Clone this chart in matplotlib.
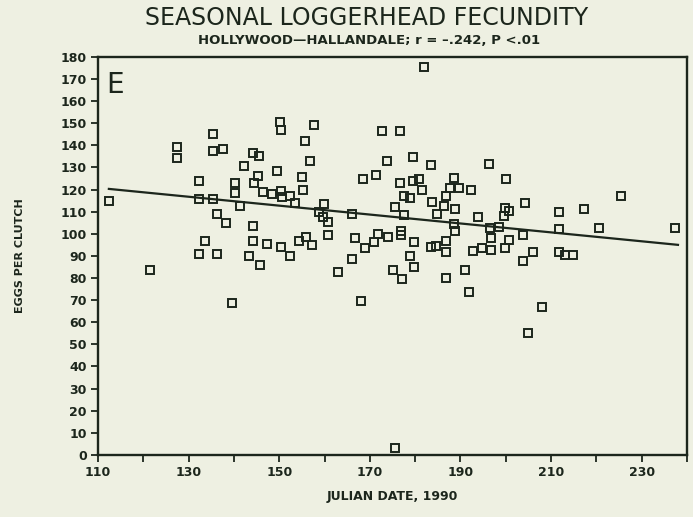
import matplotlib
matplotlib.use("Agg")
import matplotlib.pyplot as plt
import numpy as np

# julian date / eggs per clutch
dates = [
    112.5, 127.4, 127.4, 135.4, 135.3, 137.5, 142.3, 144.3, 145.6, 150.2,
    150.3, 149.4, 132.3, 140.2, 140.2, 144.4, 145.4, 146.4, 148.3, 150.4,
    150.6, 132.3, 135.4, 141.4, 136.3, 138.2, 144.3, 133.7, 144.3, 147.4,
    150.4, 132.3, 136.3, 143.3, 121.4, 139.6, 145.7, 152.4, 154.4, 157.3,
    155.9, 162.9, 166.0, 168.0, 168.9, 170.9, 175.0, 177.0, 178.9, 179.7,
    179.7, 183.6, 184.7, 186.9, 186.8, 186.9, 190.9, 191.9, 192.8, 175.5,
    194.8, 196.8, 196.8, 199.8, 200.7, 203.9, 206.0, 204.9, 208.1, 211.7,
    213.0, 214.8, 196.2, 200.1, 192.4, 204.2, 199.8, 200.7, 199.6, 193.9,
    211.7, 217.3, 225.4, 196.5, 198.4, 211.7, 220.5, 237.4, 203.8, 182.0,
    157.7, 172.6, 176.6, 155.7, 156.7, 173.7, 179.5, 183.6, 171.4, 168.4,
    155.1, 155.2, 176.6, 179.6, 180.8, 181.6, 188.6, 187.7, 189.7, 177.5,
    178.9, 183.7, 186.8, 186.4, 188.9, 184.9, 188.6, 188.9, 175.5, 177.5,
    166.0, 159.9, 158.8, 159.7, 160.8, 152.3, 153.4, 160.8, 166.7, 171.8,
    173.9, 176.8, 176.8,
]
eggs = [
    115.0, 139.4, 134.4, 145.3, 137.5, 138.5, 130.6, 136.5, 135.4, 150.7,
    146.8, 128.4, 123.7, 123.1, 118.3, 123.0, 126.0, 118.9, 118.0, 119.2,
    116.5, 115.6, 115.7, 112.4, 109.1, 105.1, 103.4, 96.6, 96.7, 95.6,
    94.0, 91.0, 91.0, 90.0, 83.6, 68.7, 85.7, 89.8, 96.6, 95.1,
    98.6, 82.7, 88.6, 69.7, 93.5, 96.3, 83.8, 79.7, 89.8, 85.0,
    96.4, 93.9, 94.5, 91.9, 96.6, 79.9, 83.6, 73.8, 92.0, 3.0,
    93.6, 92.9, 98.2, 93.5, 97.3, 87.8, 91.9, 55.2, 66.8, 91.6,
    90.5, 90.5, 131.6, 125.0, 119.8, 114.0, 111.7, 110.2, 108.0, 107.7,
    110.0, 111.3, 117.1, 102.7, 103.1, 102.3, 102.6, 102.5, 99.5, 175.3,
    149.2, 146.4, 146.6, 141.9, 133.1, 132.7, 134.6, 131.1, 126.8, 124.7,
    125.8, 119.8, 123.0, 123.9, 124.8, 120.0, 125.1, 120.7, 120.9, 117.3,
    116.0, 114.6, 117.1, 112.5, 111.2, 109.1, 104.6, 101.3, 112.2, 108.4,
    109.1, 113.4, 110.0, 107.4, 105.5, 117.0, 114.0, 99.6, 98.1, 99.8,
    98.5, 101.1, 99.6,
]

# regression line end points
fit_x = [112.4, 238.0]
fit_y = [120.3, 95.0]

x_ticks = list(range(110, 241, 10))
x_labels = [str(t) if (t - 110) % 20 == 0 else "" for t in x_ticks]
y_ticks = list(range(0, 181, 10))

ink = "#1c261c"
paper = "#eef0e2"

plt.rcParams["font.family"] = "DejaVu Sans"
fig = plt.figure(figsize=(6.93, 5.17), dpi=100, facecolor=paper)
ax = fig.add_axes([0.1414, 0.12, 0.85, 0.77])
ax.set_facecolor(paper)

ax.plot(dates, eggs, linestyle="none", marker="s", markersize=5.5,
        markerfacecolor="none", markeredgecolor=ink, markeredgewidth=1.4)
ax.plot(fit_x, fit_y, color=ink, linewidth=1.6)

ax.set_xlim(110, 240)
ax.set_ylim(0, 180)
ax.set_xticks(x_ticks)
ax.set_xticklabels(x_labels)
ax.set_yticks(y_ticks)
ax.tick_params(direction="out", length=5, width=1.3, colors=ink,
               labelsize=9, pad=3)
for lab in ax.get_xticklabels() + ax.get_yticklabels():
    lab.set_fontweight("bold")
for sp in ax.spines.values():
    sp.set_color(ink)
    sp.set_linewidth(1.7)

ax.set_xlabel("JULIAN DATE, 1990", fontsize=9, fontweight="bold",
              color=ink, labelpad=8)
ax.set_ylabel("EGGS PER CLUTCH", fontsize=8, fontweight="bold",
              color=ink, labelpad=26)

ax.text(0.014, 0.965, "E", transform=ax.transAxes, fontsize=20,
        color=ink, ha="left", va="top")

fig.text(0.529, 0.965, "SEASONAL LOGGERHEAD FECUNDITY", fontsize=17,
         color=ink, ha="center", va="center")
fig.text(0.533, 0.922, "HOLLYWOOD\u2014HALLANDALE; r = \u2013.242, P <.01",
         fontsize=9.5, fontweight="bold", color=ink, ha="center", va="center")

fig.savefig("out.png", dpi=100, facecolor=paper)
